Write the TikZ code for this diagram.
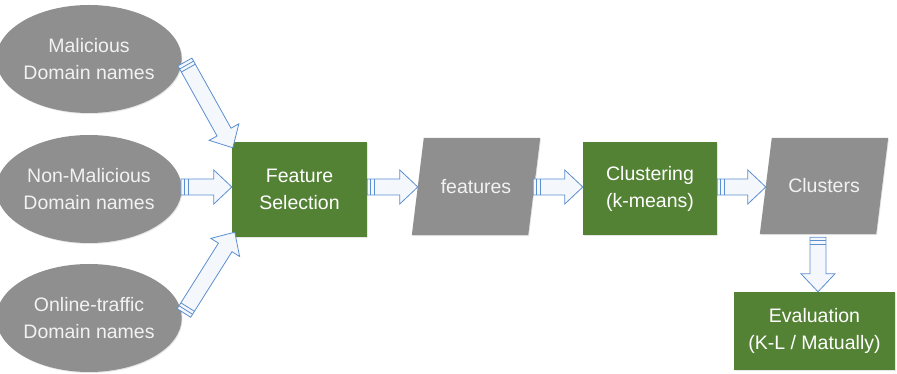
\documentclass[tikz,border=0pt]{standalone}
\usepackage{fontspec}
\setmainfont{Liberation Sans}
\usetikzlibrary{calc,positioning,shapes.geometric,shadows,backgrounds}
\definecolor{color_source}{HTML}{8F8F8F}
\definecolor{color_step}{HTML}{548235}
\definecolor{color_text}{HTML}{F2F2F2}
\definecolor{color_arrow}{HTML}{5B8FD0}
\definecolor{color_arrow_fill}{HTML}{F4F7FB}

% striped block arrow from #1 (tail) to #2 (tip)
\newcommand{\stripedarrow}[2]{%
	\coordinate (sa_base) at ($(#2)!18pt!(#1)$);
	\coordinate (sa_s1) at ($(#1)!3.5pt!(#2)$);
	\coordinate (sa_s2) at ($(#1)!7pt!(#2)$);
	\draw[arrow_body]
		($(#1)!8pt!90:(#2)$) --
		($(sa_base)!8pt!-90:(#1)$) --
		($(sa_base)!17pt!-90:(#1)$) --
		(#2) --
		($(sa_base)!17pt!90:(#1)$) --
		($(sa_base)!8pt!90:(#1)$) --
		($(#1)!8pt!-90:(#2)$) --
		cycle;
	\draw[arrow_line]
		($(sa_s1)!8pt!90:(#2)$) -- ($(sa_s1)!8pt!-90:(#2)$)
		($(sa_s2)!8pt!90:(#2)$) -- ($(sa_s2)!8pt!-90:(#2)$);
}

% slanted data shape behind node #1
\newcommand{\databack}[1]{%
	\fill[color_source, soft_shadow]
		($(#1.north west)+(6, 0)$) --
		($(#1.north east)+(6, 0)$) --
		($(#1.south east)+(-6, 0)$) --
		($(#1.south west)+(-6, 0)$) --
		cycle;
}

\tikzset{
	every node/.style={font=\fontsize{19.5}{27}\selectfont, align=center, inner sep=0},
	soft_shadow/.style={drop shadow={opacity=0.2, shadow xshift=0.8pt, shadow yshift=-1pt}},
	source/.style={ellipse, fill=color_source, text=color_text,
		minimum width=168, minimum height=108, soft_shadow},
	stepbox/.style={rectangle, fill=color_step, text=white, soft_shadow},
	dataslant/.style={rectangle, text=color_text, minimum width=116, minimum height=97},
	arrow_body/.style={draw=color_arrow, fill=color_arrow_fill, line width=0.8pt, line join=miter},
	arrow_line/.style={draw=color_arrow, line width=0.8pt},
}

\begin{document}
\begin{tikzpicture}[x=1pt,y=1pt]
	\useasboundingbox (0, 0) rectangle (897, 374);
	% Sources
	\node[source] (mal) at (89, 315) {Malicious\\Domain names};
	\node[source] (nonmal) at (89, 185) {Non-Malicious\\Domain names};
	\node[source] (online) at (89, 56) {Online-traffic\\Domain names};

	% Pipeline
	\node[stepbox, minimum width=135, minimum height=95] (fsel) at (299.5, 184.5) {Feature\\Selection};
	\node[dataslant] (feat) at (476, 187.5) {features};
	\node[stepbox, minimum width=134, minimum height=93] (clus) at (650, 185.5) {Clustering\\(k-means)};
	\node[dataslant, minimum height=96] (clusters) at (824, 188) {Clusters};
	\node[stepbox, minimum width=161, minimum height=78] (eval) at (814.5, 43) {Evaluation\\(K-L / Matually)};

	\begin{scope}[on background layer]
		\databack{feat}
		\databack{clusters}
	\end{scope}

	% Arrow ends
	\coordinate (mal_out) at ($(mal.east)+(3, -3)$);
	\coordinate (fsel_in1) at ($(fsel.north west)+(1, -6)$);
	\coordinate (nonmal_out) at ($(nonmal.east)+(-1, 2)$);
	\coordinate (online_out) at ($(online.east)+(2, 5)$);
	\coordinate (fsel_in3) at ($(fsel.south west)+(3, 5)$);
	\coordinate (fsel_out) at ($(fsel.east)+(0, 2.5)$);
	\coordinate (feat_out) at ($(feat.east |- fsel_out)+(-1, 0)$);
	\coordinate (clus_out) at (clus.east |- fsel_out);
	\coordinate (clusters_out) at ($(clusters.south)+(-6, -3)$);

	% Arrows
	\stripedarrow{mal_out}{fsel_in1}
	\stripedarrow{nonmal_out}{nonmal_out -| fsel.west}
	\stripedarrow{online_out}{fsel_in3}
	\stripedarrow{fsel_out}{fsel_out -| feat.west}
	\stripedarrow{feat_out}{feat_out -| clus.west}
	\stripedarrow{clus_out}{clus_out -| clusters.west}
	\stripedarrow{clusters_out}{clusters_out |- eval.north}
\end{tikzpicture}
\end{document}
